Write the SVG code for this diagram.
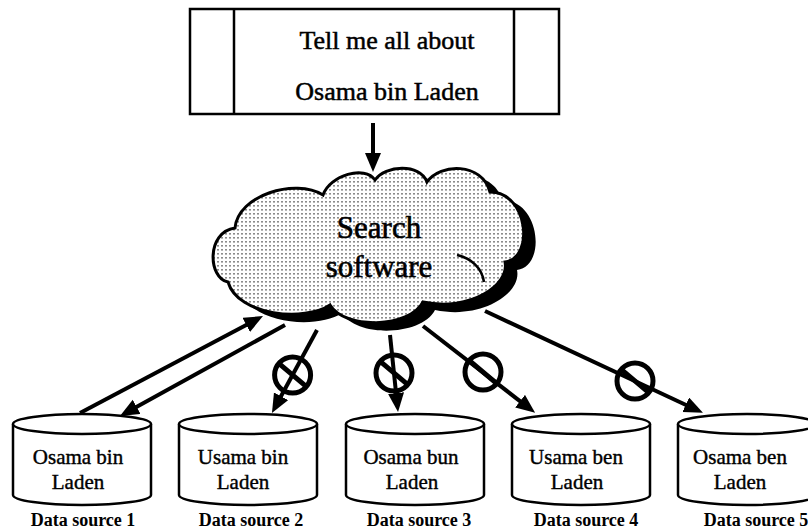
<svg xmlns="http://www.w3.org/2000/svg" xmlns:xlink="http://www.w3.org/1999/xlink" width="808" height="532" viewBox="0 0 808 532">
  <style>
    .serif { font-family: "Liberation Serif", "Times New Roman", serif; fill: #000; }
    .query { font-size: 26px; stroke: #000; stroke-width: 0.5; }
    .engine { font-size: 31px; stroke: #000; stroke-width: 0.6; }
    .record { font-size: 21px; stroke: #000; stroke-width: 0.4; }
    .caption { font-size: 18px; font-weight: bold; }
    .edge { stroke: #000; stroke-width: 4; fill: none; }
    .block { fill: none; stroke: #000; stroke-width: 5; }
    .outline { stroke: #000; stroke-width: 2.5; fill: #fff; }
  </style>
  <defs>
    <!-- halftone screen used inside the cloud -->
    <pattern id="screen" width="4" height="4" patternUnits="userSpaceOnUse">
      <rect width="4" height="4" fill="#fff"/>
      <rect x="1" y="1" width="2" height="1.6" fill="#8c8c8c"/>
    </pattern>
    <marker id="head" markerUnits="userSpaceOnUse" markerWidth="22" markerHeight="18" refX="8" refY="8" orient="auto">
      <path d="M0,0 L19,8 L0,16 Z" fill="#000"/>
    </marker>
    <!-- database drum centred on x = 0 -->
    <g id="drum">
      <path class="outline" d="M-69,424 V495 A69,10 0 0 0 69,495 V424"/>
      <ellipse class="outline" cx="0" cy="424" rx="69" ry="10"/>
    </g>
    <!-- "no access" sign centred on 0,0 -->
    <g id="block">
      <circle class="block" cx="0" cy="0" r="18"/>
      <line class="block" x1="-13.8" y1="-11.6" x2="13.8" y2="11.6"/>
    </g>
  </defs>

  <rect width="808" height="532" fill="#fff"/>

  <!-- query box -->
  <g id="query">
    <rect x="190" y="9" width="369" height="105" fill="#fff" stroke="#000" stroke-width="2.5"/>
    <line x1="234" y1="9" x2="234" y2="114" stroke="#000" stroke-width="2.5"/>
    <line x1="514" y1="9" x2="514" y2="114" stroke="#000" stroke-width="2.5"/>
    <text class="serif query" x="387" y="49" text-anchor="middle">Tell me all about</text>
    <text class="serif query" x="387" y="100" text-anchor="middle">Osama bin Laden</text>
  </g>

  <!-- search software cloud -->
  <g id="search">
    <path transform="translate(12,8)" fill="#000" d="M228,282 C208,278 206,232 235,228 C238,195 295,178 323,195 C330,175 365,165 375,180 C385,165 420,163 427,182 C440,163 482,162 490,192 C528,192 535,258 505,262 C510,285 470,312 423,302 C410,328 345,330 330,305 C305,322 238,316 228,282 Z"/>
    <path fill="url(#screen)" stroke="#000" stroke-width="3" d="M228,282 C208,278 206,232 235,228 C238,195 295,178 323,195 C330,175 365,165 375,180 C385,165 420,163 427,182 C440,163 482,162 490,192 C528,192 535,258 505,262 C510,285 470,312 423,302 C410,328 345,330 330,305 C305,322 238,316 228,282 Z"/>
    <path fill="none" stroke="#000" stroke-width="2.5" d="M457,255 C471,258 482,268 484,282"/>
    <text class="serif engine" x="379" y="238" text-anchor="middle">Search</text>
    <text class="serif engine" x="379" y="277" text-anchor="middle">software</text>
  </g>

  <!-- data sources -->
  <g id="source1">
    <use xlink:href="#drum" x="82"/>
    <text class="serif record" x="78" y="464" text-anchor="middle">Osama bin</text>
    <text class="serif record" x="78" y="489" text-anchor="middle">Laden</text>
    <text class="serif caption" x="83" y="526" text-anchor="middle">Data source 1</text>
  </g>
  <g id="source2">
    <use xlink:href="#drum" x="248"/>
    <text class="serif record" x="243" y="464" text-anchor="middle">Usama bin</text>
    <text class="serif record" x="243" y="489" text-anchor="middle">Laden</text>
    <text class="serif caption" x="251" y="526" text-anchor="middle">Data source 2</text>
  </g>
  <g id="source3">
    <use xlink:href="#drum" x="415"/>
    <text class="serif record" x="411" y="464" text-anchor="middle">Osama bun</text>
    <text class="serif record" x="412" y="489" text-anchor="middle">Laden</text>
    <text class="serif caption" x="419" y="526" text-anchor="middle">Data source 3</text>
  </g>
  <g id="source4">
    <use xlink:href="#drum" x="581"/>
    <text class="serif record" x="576" y="464" text-anchor="middle">Usama ben</text>
    <text class="serif record" x="577" y="489" text-anchor="middle">Laden</text>
    <text class="serif caption" x="586" y="526" text-anchor="middle">Data source 4</text>
  </g>
  <g id="source5">
    <use xlink:href="#drum" x="747"/>
    <text class="serif record" x="740" y="464" text-anchor="middle">Osama ben</text>
    <text class="serif record" x="740" y="489" text-anchor="middle">Laden</text>
    <text class="serif caption" x="756" y="526" text-anchor="middle">Data source 5</text>
  </g>

  <!-- connectors -->
  <g id="connectors">
    <line class="edge" x1="373" y1="123" x2="373" y2="161" marker-end="url(#head)"/>
    <line class="edge" x1="80" y1="413" x2="253.3" y2="321.2" marker-end="url(#head)"/>
    <line class="edge" x1="285" y1="325" x2="129.6" y2="410.7" marker-end="url(#head)"/>
    <line class="edge" x1="317" y1="330" x2="277.2" y2="403.3" marker-end="url(#head)"/>
    <line class="edge" x1="390" y1="335" x2="396.9" y2="401.1" marker-end="url(#head)"/>
    <line class="edge" x1="423" y1="326" x2="526.4" y2="406.1" marker-end="url(#head)"/>
    <line class="edge" x1="485" y1="311" x2="693" y2="408.2" marker-end="url(#head)"/>
    <use xlink:href="#block" x="292.6" y="375"/>
    <use xlink:href="#block" x="394" y="373"/>
    <use xlink:href="#block" x="483" y="372"/>
    <use xlink:href="#block" x="635" y="381"/>
  </g>
</svg>
